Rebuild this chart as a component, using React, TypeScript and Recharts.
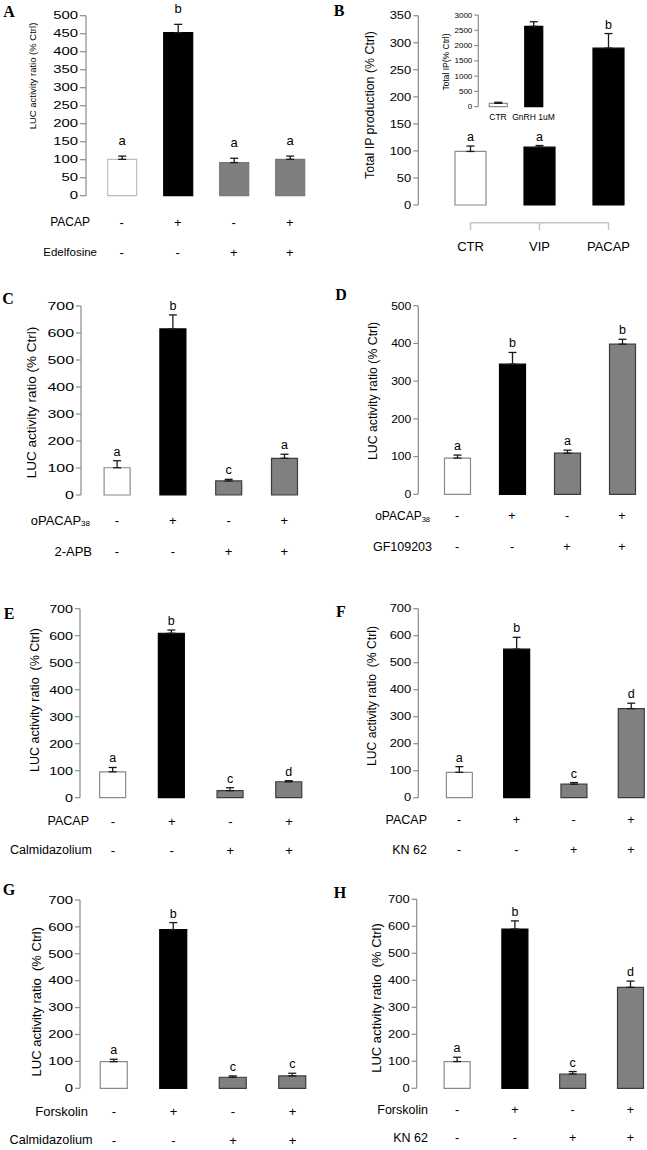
import React from 'react';
import { BarChart, Bar, XAxis, YAxis, Cell, ErrorBar, LabelList } from 'recharts';

const SANS = '"Liberation Sans", Arial, Helvetica, sans-serif';
const SERIF = '"Liberation Serif", "Times New Roman", serif';

// ---------------- DATA ----------------
const groupsLUC = ['Control', 'Agonist', 'Inhibitor', 'Agonist + inhibitor'];

// Panel A
const valuesA = [101, 453, 92, 101];
const errorsA = [9, 23, 12, 9];
const lettersA = ['a', 'b', 'a', 'a'];
const ticksA = [0, 50, 100, 150, 200, 250, 300, 350, 400, 450, 500];
const rowTitlesA = ['PACAP', 'Edelfosine'];
const signs1A = ['-', '+', '-', '+'];
const signs2A = ['-', '-', '+', '+'];

// Panel B
const catsB = ['CTR', 'VIP', 'PACAP'];
const valuesB = [99, 107, 290];
const errorsB = [10, 3, 27];
const lettersB = ['a', 'a', 'b'];
const ticksB = [0, 50, 100, 150, 200, 250, 300, 350];

// Panel B inset
const catsBInset = ['CTR', 'GnRH 1uM'];
const valuesBInset = [110, 2630];
const errorsBInset = [34, 150];
const ticksBInset = [0, 500, 1000, 1500, 2000, 2500, 3000];

// Panel C
const valuesC = [101, 615, 52, 136];
const errorsC = [26, 52, 6, 15];
const lettersC = ['a', 'b', 'c', 'a'];
const ticksC = [0, 100, 200, 300, 400, 500, 600, 700];
const rowTitlesC = ['oPACAP', '2-APB'];
const signs1C = ['-', '+', '-', '+'];
const signs2C = ['-', '-', '+', '+'];

// Panel D
const valuesD = [96, 345, 109, 398];
const errorsD = [8, 31, 8, 13];
const lettersD = ['a', 'b', 'a', 'b'];
const ticksD = [0, 100, 200, 300, 400, 500];
const rowTitlesD = ['oPACAP', 'GF109203'];
const signs1D = ['-', '+', '-', '+'];
const signs2D = ['-', '-', '+', '+'];

// Panel E
const valuesE = [96, 609, 26, 59];
const errorsE = [16, 12, 11, 4];
const lettersE = ['a', 'b', 'c', 'd'];
const ticksE = [0, 100, 200, 300, 400, 500, 600, 700];
const rowTitlesE = ['PACAP', 'Calmidazolium'];
const signs1E = ['-', '+', '-', '+'];
const signs2E = ['-', '-', '+', '+'];

// Panel F
const valuesF = [94, 550, 50, 330];
const errorsF = [21, 44, 6, 20];
const lettersF = ['a', 'b', 'c', 'd'];
const ticksF = [0, 100, 200, 300, 400, 500, 600, 700];
const rowTitlesF = ['PACAP', 'KN 62'];
const signs1F = ['-', '+', '-', '+'];
const signs2F = ['-', '-', '+', '+'];

// Panel G
const valuesG = [99, 590, 41, 46];
const errorsG = [9, 26, 5, 10];
const lettersG = ['a', 'b', 'c', 'c'];
const ticksG = [0, 100, 200, 300, 400, 500, 600, 700];
const rowTitlesG = ['Forskolin', 'Calmidazolium'];
const signs1G = ['-', '+', '-', '+'];
const signs2G = ['-', '-', '+', '+'];

// Panel H
const valuesH = [99, 590, 53, 374];
const errorsH = [16, 30, 9, 23];
const lettersH = ['a', 'b', 'c', 'd'];
const ticksH = [0, 100, 200, 300, 400, 500, 600, 700];
const rowTitlesH = ['Forskolin', 'KN 62'];
const signs1H = ['-', '+', '-', '+'];
const signs2H = ['-', '-', '+', '+'];

// ---------------- STYLES ----------------
const ROLE_STYLE: Record<string, { fill: string; stroke: string }> = {
  white: { fill: '#ffffff', stroke: '#8a8a8a' },
  black: { fill: '#000000', stroke: '#000000' },
  gray: { fill: '#808080', stroke: '#3c3c3c' },
  whiteA: { fill: '#ffffff', stroke: '#bdbdbd' },
  grayA: { fill: '#7f7f7f', stroke: '#777777' },
};
const AXIS_COLOR = '#8c8c8c';

type Cfg = {
  left: number; top: number; width: number; height: number;
  axisX: number; yTop: number; yBottom: number; max: number;
  firstCenter: number; spacing: number; barSize: number;
  tickFont: number; tickSX: number; tickLen: number;
  letterFont: number; letterGap: number;
  roles: string[];
  rowYs?: number[]; signFont?: number;
  bracket?: { lineY: number; tickY2: number; labelY: number; font: number };
  catLabel?: { y: number; font: number };
};

function Panel(props: {
  cfg: Cfg; cats: string[]; values: number[]; errors: number[];
  letters?: string[]; ticks: number[]; signRows?: string[][];
}) {
  const { cfg, cats, values, errors, letters, ticks, signRows } = props;
  const n = cats.length;
  const padL = cfg.firstCenter - cfg.axisX - cfg.spacing / 2;
  const plotRight = cfg.axisX + padL + n * cfg.spacing;
  const data = cats.map((c, i) => ({
    cat: c,
    value: values[i],
    err: [0, errors[i]],
    letter: letters ? letters[i] : '',
  }));
  const marginTop = cfg.yTop - cfg.top;
  const yAxisW = cfg.axisX - cfg.left;
  const xAxisH = cfg.top + cfg.height - cfg.yBottom;
  const marginRight = cfg.left + cfg.width - plotRight;

  const renderXTick = (p: any) => {
    const x = p.x;
    const idx = p.index;
    if (cfg.bracket) {
      const b = cfg.bracket;
      return (
        <g>
          <line x1={x} y1={b.lineY - cfg.top} x2={x} y2={b.tickY2 - cfg.top} stroke="#c4c4c4" strokeWidth={1.5} />
          {idx < n - 1 ? (
            <line x1={x} y1={b.lineY - cfg.top} x2={x + cfg.spacing} y2={b.lineY - cfg.top} stroke="#c4c4c4" strokeWidth={1.5} />
          ) : null}
          <text x={x} y={b.labelY - cfg.top} textAnchor="middle" dominantBaseline="central" fontSize={b.font} fontFamily={SANS} fill="#000">
            {p.payload.value}
          </text>
        </g>
      );
    }
    if (cfg.catLabel) {
      return (
        <text x={x} y={cfg.catLabel.y - cfg.top} textAnchor="middle" dominantBaseline="central" fontSize={cfg.catLabel.font} fontFamily={SANS} fill="#000">
          {p.payload.value}
        </text>
      );
    }
    if (signRows && cfg.rowYs) {
      return (
        <g>
          {signRows.map((row, r) => (
            <text key={r} x={x} y={cfg.rowYs![r] - cfg.top} textAnchor="middle" dominantBaseline="central" fontSize={cfg.signFont} fontFamily={SANS} fill="#000">
              {row[idx]}
            </text>
          ))}
        </g>
      );
    }
    return <g />;
  };

  const renderYTick = (p: any) => (
    <text
      transform={`translate(${p.x},${p.y}) scale(${cfg.tickSX},1)`}
      textAnchor="end"
      dominantBaseline="central"
      fontSize={cfg.tickFont}
      fontFamily={SANS}
      fill="#000"
    >
      {p.payload.value}
    </text>
  );

  const renderLetter = (p: any) => {
    const i = p.index;
    if (!letters || i == null) return null;
    const h = Number(p.height);
    const ppu = h / values[i];
    const top = Number(p.y) - errors[i] * ppu;
    return (
      <text key={`l${i}`} x={Number(p.x) + Number(p.width) / 2} y={top - cfg.letterGap} textAnchor="middle" fontSize={cfg.letterFont} fontFamily={SANS} fill="#000">
        {letters[i]}
      </text>
    );
  };

  return (
    <div style={{ position: 'absolute', left: cfg.left, top: cfg.top }}>
      <BarChart
        width={cfg.width}
        height={cfg.height}
        data={data}
        margin={{ top: marginTop, right: marginRight, left: 0, bottom: 0 }}
      >
        <XAxis
          dataKey="cat"
          axisLine={false}
          tickLine={false}
          tickSize={0}
          tickMargin={0}
          interval={0}
          height={xAxisH}
          padding={{ left: padL, right: 0 }}
          tick={renderXTick}
        />
        <YAxis
          type="number"
          domain={[0, cfg.max]}
          ticks={ticks}
          interval={0}
          width={yAxisW}
          axisLine={{ stroke: AXIS_COLOR, strokeWidth: 1.2 }}
          tickLine={{ stroke: AXIS_COLOR, strokeWidth: 1.2 }}
          tickSize={cfg.tickLen}
          tickMargin={2}
          tick={renderYTick}
        />
        <Bar dataKey="value" barSize={cfg.barSize} isAnimationActive={false}>
          {data.map((d, i) => {
            const st = ROLE_STYLE[cfg.roles[i]];
            return <Cell key={i} fill={st.fill} stroke={st.stroke} strokeWidth={1.2} />;
          })}
          <ErrorBar dataKey="err" width={4} stroke="#1a1a1a" strokeWidth={1.3} direction="y" isAnimationActive={false} />
          {letters ? <LabelList dataKey="letter" content={renderLetter} /> : null}
        </Bar>
      </BarChart>
    </div>
  );
}

// ---------------- LAYOUT ----------------
const cfgA: Cfg = {
  left: 0, top: 0, width: 322, height: 270, axisX: 86, yTop: 15.7, yBottom: 195.7, max: 500,
  firstCenter: 121.7, spacing: 56, barSize: 29, tickFont: 11, tickSX: 1.35, tickLen: 6, letterFont: 13, letterGap: 11,
  roles: ['whiteA', 'black', 'grayA', 'grayA'], rowYs: [222, 252], signFont: 13,
};
const cfgB: Cfg = {
  left: 320, top: 0, width: 327, height: 270, axisX: 418.3, yTop: 15.7, yBottom: 205, max: 350,
  firstCenter: 470.5, spacing: 69, barSize: 31, tickFont: 11.6, tickSX: 1.12, tickLen: 5, letterFont: 12.5, letterGap: 5,
  roles: ['white', 'black', 'black'],
  bracket: { lineY: 222.7, tickY2: 230, labelY: 246.7, font: 13 },
};
const cfgBInset: Cfg = {
  left: 430, top: 0, width: 125, height: 130, axisX: 478.3, yTop: 15, yBottom: 106.7, max: 3000,
  firstCenter: 498, spacing: 35.5, barSize: 18, tickFont: 8, tickSX: 1, tickLen: 4, letterFont: 8, letterGap: 3,
  roles: ['white', 'black'],
  catLabel: { y: 117, font: 8.5 },
};
const cfgC: Cfg = {
  left: 0, top: 280, width: 322, height: 290, axisX: 81, yTop: 306, yBottom: 495, max: 700,
  firstCenter: 117, spacing: 55.8, barSize: 26, tickFont: 11, tickSX: 1.45, tickLen: 5, letterFont: 12.5, letterGap: 5,
  roles: ['white', 'black', 'gray', 'gray'], rowYs: [520, 551], signFont: 13,
};
const cfgD: Cfg = {
  left: 320, top: 280, width: 340, height: 290, axisX: 418.3, yTop: 305.7, yBottom: 494.3, max: 500,
  firstCenter: 457, spacing: 55, barSize: 26, tickFont: 11, tickSX: 1.1, tickLen: 5, letterFont: 12.5, letterGap: 5,
  roles: ['white', 'black', 'gray', 'gray'], rowYs: [516, 547], signFont: 12.5,
};
const cfgE: Cfg = {
  left: 0, top: 590, width: 322, height: 275, axisX: 80, yTop: 608.7, yBottom: 797.7, max: 700,
  firstCenter: 113, spacing: 58.7, barSize: 26, tickFont: 11, tickSX: 1.3, tickLen: 5, letterFont: 12.5, letterGap: 5,
  roles: ['white', 'black', 'gray', 'gray'], rowYs: [821, 850], signFont: 13,
};
const cfgF: Cfg = {
  left: 320, top: 590, width: 345, height: 275, axisX: 418.3, yTop: 608.7, yBottom: 797.7, max: 700,
  firstCenter: 459, spacing: 57.3, barSize: 26, tickFont: 11, tickSX: 1.18, tickLen: 5, letterFont: 12.5, letterGap: 5,
  roles: ['white', 'black', 'gray', 'gray'], rowYs: [820, 850], signFont: 12.5,
};
const cfgG: Cfg = {
  left: 0, top: 880, width: 325, height: 270, axisX: 80, yTop: 900, yBottom: 1088.3, max: 700,
  firstCenter: 114, spacing: 59.5, barSize: 27, tickFont: 11, tickSX: 1.35, tickLen: 5, letterFont: 12.5, letterGap: 5,
  roles: ['white', 'black', 'gray', 'gray'], rowYs: [1111.7, 1140], signFont: 13,
};
const cfgH: Cfg = {
  left: 320, top: 880, width: 345, height: 270, axisX: 416.7, yTop: 899.3, yBottom: 1088.3, max: 700,
  firstCenter: 457, spacing: 57.8, barSize: 26, tickFont: 11, tickSX: 1.18, tickLen: 5, letterFont: 12.5, letterGap: 5,
  roles: ['white', 'black', 'gray', 'gray'], rowYs: [1110, 1138], signFont: 12.5,
};

function YTitle({ x, y, size, text }: { x: number; y: number; size: number; text: string }) {
  return (
    <text
      x={x}
      y={y}
      transform={`rotate(-90 ${x} ${y})`}
      textAnchor="middle"
      dominantBaseline="central"
      fontSize={size}
      fontFamily={SANS}
      fill="#000"
      style={{ whiteSpace: 'pre' }}
    >
      {text}
    </text>
  );
}

function RowTitle({ x, y, text, size = 12.5 }: { x: number; y: number; text: string; size?: number }) {
  return (
    <text x={x} y={y} textAnchor="end" dominantBaseline="central" fontSize={size} fontFamily={SANS} fill="#000">
      {text}
    </text>
  );
}

function SubTitle({ x, y, text, sub, size, subSize }: { x: number; y: number; text: string; sub: string; size: number; subSize: number }) {
  return (
    <text x={x} y={y} textAnchor="end" dominantBaseline="central" fontSize={size} fontFamily={SANS} fill="#000">
      {text}
      <tspan fontSize={subSize} dy={3}>{sub}</tspan>
    </text>
  );
}

function PanelLetter({ x, y, t }: { x: number; y: number; t: string }) {
  return (
    <text x={x} y={y} textAnchor="middle" dominantBaseline="central" fontSize={16} fontWeight="bold" fontFamily={SERIF} fill="#000">
      {t}
    </text>
  );
}

export default function App() {
  return (
    <div style={{ position: 'absolute', left: 0, top: 0, width: 647, height: 1150, overflow: 'hidden', background: '#fff' }}>
      <Panel cfg={cfgA} cats={groupsLUC} values={valuesA} errors={errorsA} letters={lettersA} ticks={ticksA} signRows={[signs1A, signs2A]} />
      <Panel cfg={cfgB} cats={catsB} values={valuesB} errors={errorsB} letters={lettersB} ticks={ticksB} />
      <Panel cfg={cfgBInset} cats={catsBInset} values={valuesBInset} errors={errorsBInset} ticks={ticksBInset} />
      <Panel cfg={cfgC} cats={groupsLUC} values={valuesC} errors={errorsC} letters={lettersC} ticks={ticksC} signRows={[signs1C, signs2C]} />
      <Panel cfg={cfgD} cats={groupsLUC} values={valuesD} errors={errorsD} letters={lettersD} ticks={ticksD} signRows={[signs1D, signs2D]} />
      <Panel cfg={cfgE} cats={groupsLUC} values={valuesE} errors={errorsE} letters={lettersE} ticks={ticksE} signRows={[signs1E, signs2E]} />
      <Panel cfg={cfgF} cats={groupsLUC} values={valuesF} errors={errorsF} letters={lettersF} ticks={ticksF} signRows={[signs1F, signs2F]} />
      <Panel cfg={cfgG} cats={groupsLUC} values={valuesG} errors={errorsG} letters={lettersG} ticks={ticksG} signRows={[signs1G, signs2G]} />
      <Panel cfg={cfgH} cats={groupsLUC} values={valuesH} errors={errorsH} letters={lettersH} ticks={ticksH} signRows={[signs1H, signs2H]} />
      <svg width={647} height={1150} style={{ position: 'absolute', left: 0, top: 0, pointerEvents: 'none' }}>
        <PanelLetter x={9} y={11} t="A" />
        <PanelLetter x={339} y={10} t="B" />
        <PanelLetter x={8} y={298} t="C" />
        <PanelLetter x={341} y={294} t="D" />
        <PanelLetter x={9} y={613} t="E" />
        <PanelLetter x={341} y={611} t="F" />
        <PanelLetter x={9} y={889} t="G" />
        <PanelLetter x={340} y={892} t="H" />

        <YTitle x={32} y={76} size={9.5} text="LUC activity ratio (% Ctrl)" />
        <YTitle x={370} y={105} size={12.4} text="Total IP production (% Ctrl)" />
        <YTitle x={446} y={62} size={8.5} text="Total IP(% Ctrl)" />
        <YTitle x={31.7} y={402.5} size={13.5} text="LUC activity ratio (% Ctrl)" />
        <YTitle x={372.7} y={391} size={12.3} text="LUC activity ratio (% Ctrl)" />
        <YTitle x={35} y={700} size={12.5} text="LUC activity ratio  (% Ctrl)" />
        <YTitle x={371.7} y={696} size={12.2} text="LUC activity ratio  (% Ctrl)" />
        <YTitle x={36.7} y={1001.7} size={13} text="LUC activity ratio  (% Ctrl)" />
        <YTitle x={376.7} y={998} size={13} text="LUC activity ratio  (% Ctrl)" />

        <RowTitle x={90} y={222} text={rowTitlesA[0]} size={12} />
        <RowTitle x={97} y={252} text={rowTitlesA[1]} size={11.5} />
        <SubTitle x={90} y={520} text={rowTitlesC[0]} sub="38" size={13} subSize={8} />
        <RowTitle x={92} y={551} text={rowTitlesC[1]} size={13} />
        <SubTitle x={430} y={516} text={rowTitlesD[0]} sub="38" size={12} subSize={7.5} />
        <RowTitle x={432} y={547} text={rowTitlesD[1]} size={12.5} />
        <RowTitle x={89} y={821} text={rowTitlesE[0]} />
        <RowTitle x={92} y={850} text={rowTitlesE[1]} />
        <RowTitle x={427} y={820} text={rowTitlesF[0]} />
        <RowTitle x={427} y={850} text={rowTitlesF[1]} />
        <RowTitle x={88} y={1111.7} text={rowTitlesG[0]} size={13} />
        <RowTitle x={92.7} y={1140} text={rowTitlesG[1]} size={12.7} />
        <RowTitle x={428} y={1110} text={rowTitlesH[0]} />
        <RowTitle x={428} y={1138} text={rowTitlesH[1]} />
      </svg>
    </div>
  );
}
